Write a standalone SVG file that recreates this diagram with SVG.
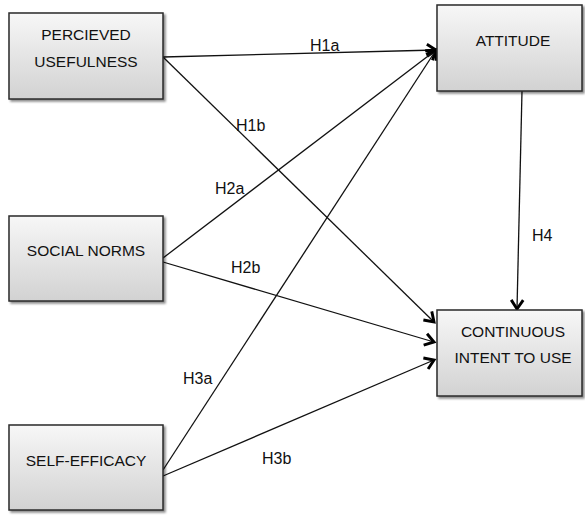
<svg xmlns="http://www.w3.org/2000/svg" width="585" height="515" viewBox="0 0 585 515">
<defs>
<linearGradient id="g" x1="0" y1="0" x2="0" y2="1">
<stop offset="0" stop-color="#f7f7f7"/>
<stop offset="1" stop-color="#d2d2d2"/>
</linearGradient>
<marker id="arr" markerUnits="userSpaceOnUse" markerWidth="16" markerHeight="16" refX="11" refY="7" orient="auto" viewBox="0 0 16 14">
<path d="M2,1 L11,7 L2,13" fill="none" stroke="#000" stroke-width="2.9" stroke-linejoin="miter"/>
</marker>
<filter id="sh" x="-5%" y="-5%" width="115%" height="115%">
<feDropShadow dx="2" dy="2" stdDeviation="0.8" flood-color="#000" flood-opacity="0.45"/>
</filter>
</defs>
<style>
.box{fill:url(#g);stroke:#2a2a2a;stroke-width:1.5;filter:url(#sh)}
.t{font-family:"Liberation Sans",Arial,sans-serif;font-size:15.5px;fill:#111;text-anchor:middle;dominant-baseline:central}
.l{font-family:"Liberation Sans",Arial,sans-serif;font-size:16px;fill:#111;dominant-baseline:central}
.c{stroke:#111;stroke-width:1.3;fill:none}
.a{marker-end:url(#arr)}
</style>
<rect width="585" height="515" fill="#fff"/>
<g id="connectors">
<line class="c a" x1="163" y1="57" x2="436" y2="50"/>
<line class="c a" x1="163" y1="57" x2="434" y2="322"/>
<line class="c a" x1="163" y1="258" x2="436" y2="50"/>
<line class="c a" x1="163" y1="262" x2="434" y2="342"/>
<line class="c a" x1="163" y1="470" x2="436" y2="50"/>
<line class="c a" x1="163" y1="476" x2="434" y2="360"/>
<line class="c a" x1="522" y1="91" x2="517" y2="309"/>
<text class="l" x="310" y="45">H1a</text>
<text class="l" x="236" y="125">H1b</text>
<text class="l" x="215" y="188">H2a</text>
<text class="l" x="231" y="267">H2b</text>
<text class="l" x="183" y="378">H3a</text>
<text class="l" x="262" y="458">H3b</text>
<text class="l" x="532" y="235">H4</text>
</g>
<g id="pu">
<rect class="box" x="9" y="13" width="154" height="86"/>
<text class="t" x="86" y="34">PERCIEVED</text>
<text class="t" x="86" y="61">USEFULNESS</text>
</g>
<g id="sn">
<rect class="box" x="9" y="216" width="154" height="85"/>
<text class="t" x="86" y="250">SOCIAL NORMS</text>
</g>
<g id="se">
<rect class="box" x="9" y="425" width="154" height="85"/>
<text class="t" x="86" y="460">SELF-EFFICACY</text>
</g>
<g id="att">
<rect class="box" x="437" y="5" width="145" height="86"/>
<text class="t" x="513" y="40">ATTITUDE</text>
</g>
<g id="ciu">
<rect class="box" x="437" y="310" width="145" height="86"/>
<text class="t" x="513" y="331">CONTINUOUS</text>
<text class="t" x="513" y="357">INTENT TO USE</text>
</g>
</svg>
